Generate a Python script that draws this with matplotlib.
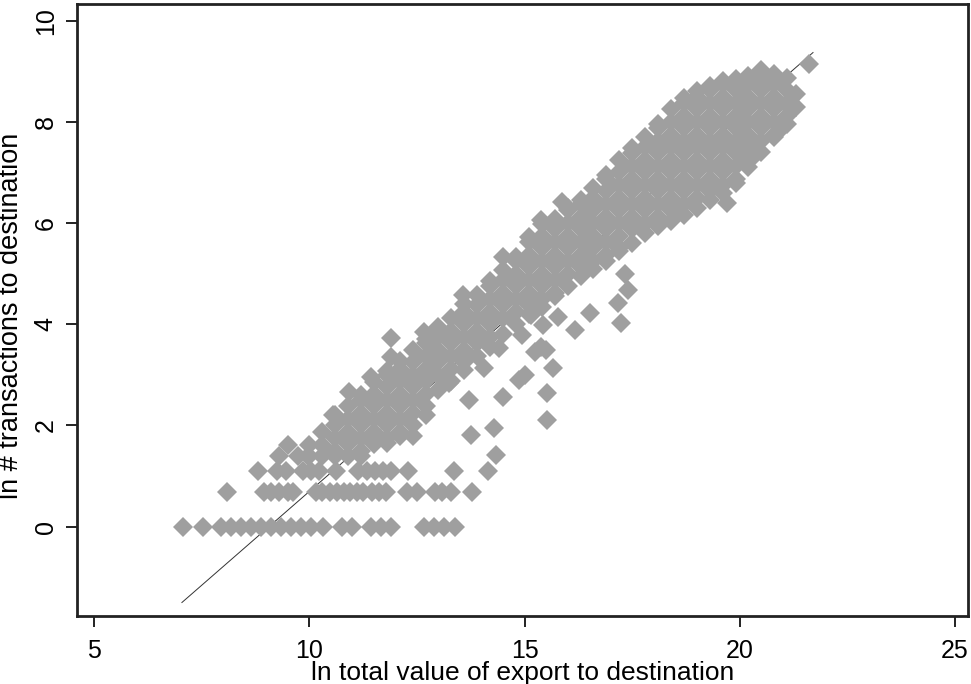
import matplotlib
matplotlib.use("Agg")
import matplotlib.pyplot as plt
import numpy as np

plt.rcParams['font.family'] = ['Liberation Sans', 'DejaVu Sans']

# points on the discrete low-count rows: ln(1), ln(2), ln(3), ln(4), ln(5)
row0_x = [7.06, 7.53, 7.95, 8.18, 8.41, 8.64, 8.87, 9.11, 9.34, 9.57, 9.80, 10.03, 10.31,
          10.75, 11.00, 11.43, 11.66, 11.89, 12.66, 12.89, 13.12, 13.38]
row1_x = [8.08, 8.95, 9.12, 9.30, 9.50, 9.62, 10.15, 10.30, 10.48, 10.65, 10.80, 10.95,
          11.10, 11.25, 11.45, 11.62, 11.78, 12.28, 12.50, 12.92, 13.08, 13.28, 13.77]
row2_x = [8.80, 9.25, 9.45, 9.85, 10.03, 10.22, 10.62, 11.13, 11.33, 11.52, 11.72, 11.90,
          12.29, 13.35, 14.16]
row3_x = [9.29, 9.73, 9.97]
row4_x = [9.50]

# main cloud, column by column (x, list of y)
cloud = [
    (10.0, [1.39, 1.61]),
    (10.3, [1.39, 1.61, 1.875]),
    (10.6, [1.39, 1.50, 1.75, 2.00, 2.20]),
    (10.9, [1.39, 1.625, 1.875, 2.125, 2.375]),
    (11.2, [1.39, 1.50, 1.75, 2.00, 2.25, 2.50, 2.60]),
    (11.5, [1.625, 1.875, 2.125, 2.375, 2.625, 2.85]),
    (11.8, [1.65, 1.75, 2.00, 2.25, 2.50, 2.75, 3.00, 3.08]),
    (12.1, [1.79, 1.875, 2.125, 2.375, 2.625, 2.875, 3.125, 3.28]),
    (12.4, [1.79, 2.00, 2.25, 2.50, 2.75, 3.00, 3.25, 3.50]),
    (12.7, [2.20, 2.375, 2.625, 2.875, 3.125, 3.375, 3.625, 3.70]),
    (13.0, [2.70, 3.00, 3.25, 3.50, 3.75, 3.95]),
    (13.3, [2.875, 3.125, 3.375, 3.625, 3.875, 4.125]),
    (13.6, [3.10, 3.25, 3.50, 3.75, 4.00, 4.25, 4.40]),
    (13.9, [3.375, 3.625, 3.875, 4.125, 4.375, 4.58]),
    (14.2, [3.55, 3.75, 4.00, 4.25, 4.50, 4.75, 4.85]),
    (14.5, [3.80, 4.125, 4.375, 4.625, 4.875, 5.08]),
    (14.8, [4.00, 4.25, 4.50, 4.75, 5.00, 5.25, 5.32]),
    (15.1, [4.20, 4.375, 4.625, 4.875, 5.125, 5.375, 5.625, 5.72]),
    (15.4, [4.35, 4.50, 4.75, 5.00, 5.25, 5.50, 5.75, 5.98]),
    (15.7, [4.55, 4.625, 4.875, 5.125, 5.375, 5.625, 5.875, 6.08]),
    (16.0, [4.75, 5.00, 5.25, 5.50, 5.75, 6.00, 6.25, 6.30]),
    (16.3, [4.95, 5.125, 5.375, 5.625, 5.875, 6.125, 6.375, 6.45]),
    (16.6, [5.10, 5.25, 5.50, 5.75, 6.00, 6.25, 6.50, 6.70]),
    (16.9, [5.25, 5.375, 5.625, 5.875, 6.125, 6.375, 6.625, 6.875, 6.95]),
    (17.2, [5.45, 5.50, 5.75, 6.00, 6.25, 6.50, 6.75, 7.00, 7.25]),
    (17.5, [5.60, 5.875, 6.125, 6.375, 6.625, 6.875, 7.125, 7.375, 7.48]),
    (17.8, [5.80, 6.00, 6.25, 6.50, 6.75, 7.00, 7.25, 7.50, 7.70]),
    (18.1, [5.95, 6.125, 6.375, 6.625, 6.875, 7.125, 7.375, 7.625, 7.875, 7.95]),
    (18.4, [6.05, 6.25, 6.50, 6.75, 7.00, 7.25, 7.50, 7.75, 8.00, 8.25]),
    (18.7, [6.15, 6.375, 6.625, 6.875, 7.125, 7.375, 7.625, 7.875, 8.125, 8.375, 8.48]),
    (19.0, [6.30, 6.50, 6.75, 7.00, 7.25, 7.50, 7.75, 8.00, 8.25, 8.50, 8.60]),
    (19.3, [6.45, 6.625, 6.875, 7.125, 7.375, 7.625, 7.875, 8.125, 8.375, 8.625, 8.70]),
    (19.6, [6.60, 6.75, 7.00, 7.25, 7.50, 7.75, 8.00, 8.25, 8.50, 8.75, 8.80]),
    (19.9, [6.80, 6.875, 7.125, 7.375, 7.625, 7.875, 8.125, 8.375, 8.625, 8.85]),
    (20.2, [7.10, 7.25, 7.50, 7.75, 8.00, 8.25, 8.50, 8.75, 8.90]),
    (20.5, [7.40, 7.625, 7.875, 8.125, 8.375, 8.625, 8.875, 9.02]),
    (20.8, [7.70, 7.75, 8.00, 8.25, 8.50, 8.75, 8.95]),
    (21.1, [7.95, 8.125, 8.375, 8.625, 8.875]),
    (21.3, [8.30, 8.55]),
]

# scattered points outside the main cloud
extra_x = [10.55, 10.92, 11.43, 11.89, 11.89, 12.66, 13.56, 14.49, 15.88, 15.37,
           13.24, 13.70, 13.75, 14.28, 14.33, 14.51, 14.86, 15.02, 14.05, 14.40,
           14.95, 15.14, 15.42, 15.37, 15.25, 15.50, 15.67, 15.53, 15.53, 15.77,
           16.18, 16.53, 17.16, 17.23, 17.40, 17.34, 19.70, 21.17, 21.0, 20.24,
           21.60]
extra_y = [2.21, 2.66, 2.96, 3.35, 3.73, 3.85, 4.58, 5.33, 6.41, 6.06,
           2.84, 2.50, 1.81, 1.95, 1.42, 2.56, 2.90, 3.00, 3.14, 3.53,
           3.79, 4.18, 3.98, 3.55, 3.45, 3.50, 3.14, 2.64, 2.11, 4.14,
           3.89, 4.22, 4.42, 4.02, 4.67, 5.00, 6.40, 8.28, 7.90, 7.24,
           9.15]

# fitted line end points
fit_x = [7.04, 21.70]
fit_y = [-1.50, 9.37]

xs = list(row0_x) + list(row1_x) + list(row2_x) + list(row3_x) + list(row4_x)
ys = ([0.0] * len(row0_x) + [np.log(2)] * len(row1_x) + [np.log(3)] * len(row2_x)
      + [np.log(4)] * len(row3_x) + [np.log(5)] * len(row4_x))
for cx, cys in cloud:
    xs += [cx] * len(cys)
    ys += cys
xs += extra_x
ys += extra_y

fig = plt.figure(figsize=(9.71, 6.84), dpi=100)
ax = fig.add_axes([0.0796, 0.0999, 0.9173, 0.8943])

ax.plot(fit_x, fit_y, color='#333333', lw=0.7, zorder=1)
ax.plot(xs, ys, linestyle='none', marker='D', markersize=9.8,
        markeredgewidth=0, color='#9f9f9f', zorder=2)

ax.set_xlim(4.61, 25.30)
ax.set_ylim(-1.76, 10.33)
ax.set_xticks([5, 10, 15, 20, 25])
ax.set_yticks([0, 2, 4, 6, 8, 10])

for sp in ax.spines.values():
    sp.set_linewidth(2)
    sp.set_color('#222222')

ax.tick_params(axis='both', length=8, width=1.4, color='#222222', labelsize=18)
ax.tick_params(axis='x', pad=9)
ax.tick_params(axis='y', pad=6)
for lab in ax.get_yticklabels():
    lab.set_rotation(90)
    lab.set_va('center')

ax.set_xlabel('ln total value of export to destination', fontsize=19)
ax.set_ylabel('ln # transactions to destination', fontsize=19.5)
ax.xaxis.set_label_coords(0.5, -0.0745)
ax.yaxis.set_label_coords(-0.0597, 0.49)

fig.savefig('out.png', dpi=100)
